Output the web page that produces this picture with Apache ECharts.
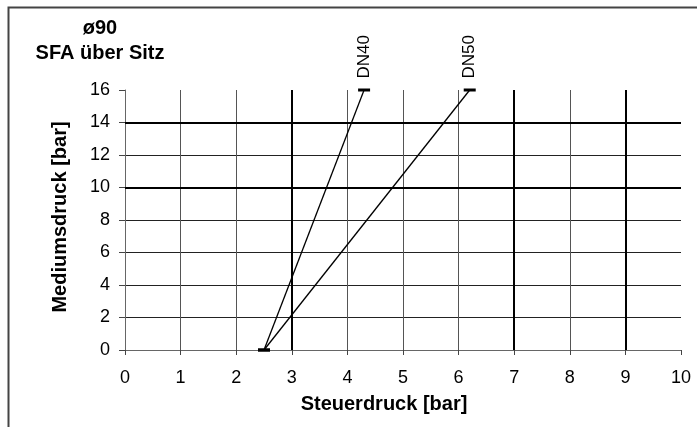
<!DOCTYPE html>
<html><head><meta charset="utf-8">
<script src="https://cdn.jsdelivr.net/npm/echarts@6/dist/echarts.min.js"></script>
<style>html,body{margin:0;padding:0;background:#fff}#c{width:697px;height:427px}</style>
</head><body><div id="c"></div>
<script>
const seriesNames = ['DN40', 'DN50'];
const startX = [2.5, 2.5];
const startY = [0, 0];
const endX = [4.3, 6.2];
const endY = [16, 16];
const xTicks = [0, 1, 2, 3, 4, 5, 6, 7, 8, 9, 10];
const yTicks = [0, 2, 4, 6, 8, 10, 12, 14, 16];
const heavyX = [3, 7, 9];
const heavyY = [14, 10];

const FONT = '"Liberation Sans", Arial, sans-serif';
const chart = echarts.init(document.getElementById('c'));

const series = seriesNames.map((n, i) => ({
  name: n, type: 'line',
  data: [
    [startX[i], startY[i]],
    { value: [endX[i], endY[i]], label: { show: true, formatter: n } }
  ],
  symbol: 'rect', symbolSize: [12, 3],
  itemStyle: { color: '#000' },
  lineStyle: { color: '#000', width: 1.3 },
  label: { show: false, position: 'top', distance: 10, rotate: 90, align: 'left', verticalAlign: 'middle',
           color: '#000', fontFamily: FONT, fontSize: 17 },
  z: 5, animation: false
}));
series.push({
  type: 'line', data: [], silent: true, animation: false,
  markLine: {
    silent: true, symbol: 'none', label: { show: false }, animation: false,
    lineStyle: { color: '#000', width: 2, type: 'solid' },
    data: heavyX.map(v => ({ xAxis: v })).concat(heavyY.map(v => ({ yAxis: v })))
  }
});

chart.setOption({
  animation: false,
  grid: { left: 125, right: 16, top: 90, bottom: 77 },
  xAxis: {
    type: 'value', min: xTicks[0], max: xTicks[xTicks.length - 1], interval: 1,
    axisLine: { show: true, lineStyle: { color: '#666', width: 1 } },
    axisTick: { show: true, length: 5, lineStyle: { color: '#444' } },
    axisLabel: { margin: 19, color: '#000', fontSize: 18, fontFamily: FONT },
    splitLine: { show: true, showMinLine: false, showMaxLine: false, lineStyle: { color: '#555', width: 1 } }
  },
  yAxis: {
    type: 'value', min: yTicks[0], max: yTicks[yTicks.length - 1], interval: 2,
    axisLine: { show: true, lineStyle: { color: '#666', width: 1 } },
    axisTick: { show: true, length: 6, lineStyle: { color: '#444' } },
    axisLabel: { margin: 15, color: '#000', fontSize: 18, fontFamily: FONT },
    splitLine: { show: true, showMinLine: false, showMaxLine: false, lineStyle: { color: '#222', width: 1.2 } }
  },
  graphic: [
    { type: 'rect', left: 6, top: 5, shape: { x: 0, y: 0, width: 800, height: 600 },
      style: { fill: 'none', stroke: '#444', lineWidth: 2 }, silent: true },
    { type: 'text', x: 100, y: 28, style: { text: 'ø90', font: 'bold 20px ' + FONT, fill: '#000', align: 'center', verticalAlign: 'middle' } },
    { type: 'text', x: 100, y: 53, style: { text: 'SFA über Sitz', font: 'bold 20px ' + FONT, fill: '#000', align: 'center', verticalAlign: 'middle' } },
    { type: 'text', x: 384, y: 404, style: { text: 'Steuerdruck [bar]', font: 'bold 20px ' + FONT, fill: '#000', align: 'center', verticalAlign: 'middle' } },
    { type: 'text', x: 60, y: 217, rotation: Math.PI / 2, style: { text: 'Mediumsdruck [bar]', font: 'bold 20px ' + FONT, fill: '#000', align: 'center', verticalAlign: 'middle' } }
  ],
  series: series
});
</script></body></html>
